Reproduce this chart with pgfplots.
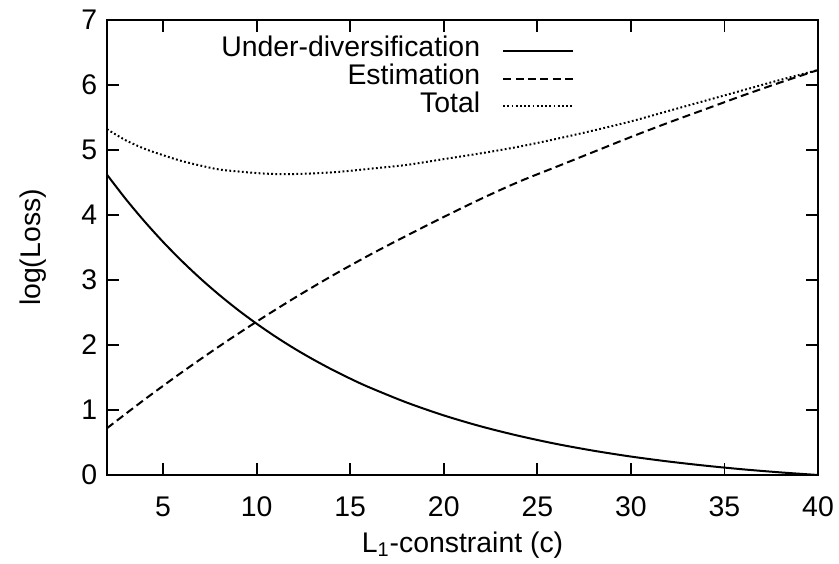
\documentclass[border=0pt]{standalone}
\usepackage{fontspec}
\setmainfont{Liberation Sans}
\usepackage{pgfplots}
\pgfplotsset{compat=1.18}

\begin{document}
\fontsize{14.2}{17}\selectfont
\begin{tikzpicture}
\begin{axis}[
    name=ax,
    scale only axis,
    width=355.5pt, height=227.5pt,
    xmin=2, xmax=40, ymin=0, ymax=7,
    xtick={5,10,...,40}, ytick={0,1,...,7},
    /pgf/number format/assume math mode=true,
    tick align=inside, xtick pos=both, ytick pos=both,
    major tick length=6pt,
    tick style={line width=0.9pt, black},
    axis line style={line width=1pt},
    xticklabel style={yshift=-6pt},
    xlabel={L\textsubscript{1}-constraint (c)},
    ylabel={log(Loss)},
    xlabel style={at={(axis description cs:0.5,-0.154)}, anchor=center},
    ylabel style={at={(axis description cs:-0.104,0.5)}, anchor=center},
    legend plot pos=right,
    legend cell align=right,
    legend style={draw=none, fill=none, inner sep=0pt, outer sep=0pt,
                  at={(axis description cs:0.657,0.962)}, anchor=north east,
                  column sep=11pt, row sep=0pt,
                  nodes={inner sep=0pt, text height=9.8pt, text depth=4pt}},
    legend image code/.code={\draw[#1] (0pt,0pt) -- (35pt,0pt);},
    every axis plot/.append style={line width=1pt, black},
]
% Under-diversification
\addplot[solid, smooth] coordinates {
    (2,4.620) (3,4.247) (4,3.903) (5,3.585) (6,3.292) (7,3.021) (8,2.771)
    (9,2.540) (10,2.327) (11,2.130) (12,1.948) (13,1.781) (14,1.626)
    (15,1.483) (16,1.351) (18,1.117) (20,0.917) (22,0.747) (24,0.603)
    (26,0.479) (28,0.374) (30,0.284) (32,0.208) (34,0.143) (36,0.087)
    (38,0.040) (40,0.000)
};
\addlegendentry{Under-diversification}

% Estimation
\addplot[dash pattern=on 4pt off 2.2pt, smooth] coordinates {
    (2,0.72) (4,1.16) (6,1.58) (8,1.98) (10,2.36) (12,2.72) (14,3.06)
    (16,3.38) (18,3.68) (20,3.97) (22,4.25) (24,4.51) (26,4.74) (28,4.97)
    (30,5.20) (32,5.42) (34,5.63) (36,5.84) (38,6.04) (40,6.23)
};
\addlegendentry{Estimation}

% Total
\addplot[dash pattern=on 0.9pt off 1.2pt, smooth] coordinates {
    (2,5.32) (3,5.15) (4,5.02) (5,4.92) (6,4.83) (7,4.76) (8,4.70)
    (9,4.67) (10,4.645) (11,4.63) (12,4.63) (13,4.64) (14,4.655)
    (15,4.68) (16,4.71) (18,4.77) (20,4.86) (22,4.95) (24,5.05)
    (26,5.17) (28,5.30) (30,5.44) (32,5.60) (34,5.76) (36,5.92)
    (38,6.08) (40,6.23)
};
\addlegendentry{Total}
\end{axis}
\pgfresetboundingbox
\path ([shift={(-53.5pt,-44pt)}]ax.south west) rectangle ([shift={(10.5pt,10pt)}]ax.north east);
\end{tikzpicture}
\end{document}
